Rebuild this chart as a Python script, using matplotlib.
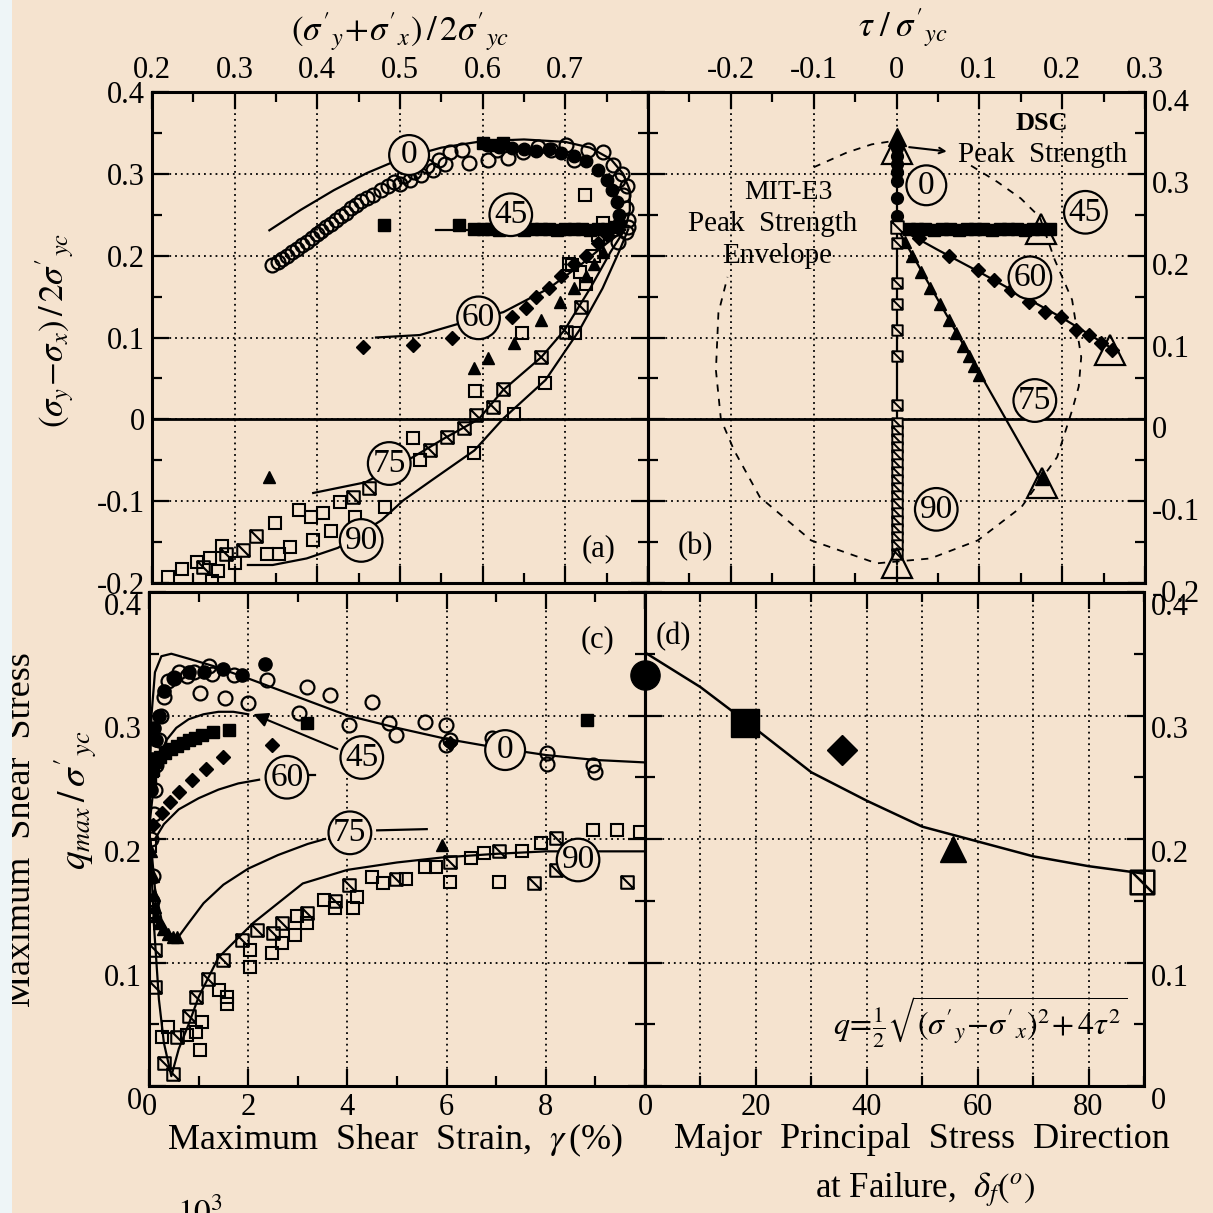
import matplotlib
matplotlib.use("Agg")
import matplotlib.pyplot as plt
from matplotlib.path import Path
from matplotlib.markers import MarkerStyle
from matplotlib.patches import Rectangle
from matplotlib.ticker import MultipleLocator, FuncFormatter
from matplotlib.transforms import ScaledTranslation

W, H = 1213, 1213
BG = "#f5e3cf"

# ---------------- panel (a): stress path, (s'y+s'x)/2 vs (sy-sx)/2 ----------------
a_circ_open_x = [0.345, 0.352, 0.357, 0.363, 0.369, 0.375, 0.381, 0.387, 0.393, 0.399, 0.405,
                 0.411, 0.417, 0.423, 0.429, 0.435, 0.441, 0.447, 0.453, 0.460, 0.467, 0.477,
                 0.485, 0.493, 0.500, 0.505, 0.512, 0.517, 0.525, 0.533, 0.540, 0.547, 0.555,
                 0.561, 0.575, 0.583, 0.607, 0.617, 0.631, 0.649, 0.667, 0.683, 0.701, 0.710,
                 0.728, 0.746, 0.758, 0.764, 0.770, 0.773, 0.776, 0.776, 0.773, 0.764, 0.768,
                 0.775]
a_circ_open_y = [0.189, 0.192, 0.196, 0.199, 0.204, 0.208, 0.213, 0.217, 0.222, 0.226, 0.230,
                 0.235, 0.239, 0.243, 0.248, 0.252, 0.258, 0.262, 0.267, 0.270, 0.274, 0.280,
                 0.285, 0.290, 0.287, 0.297, 0.293, 0.302, 0.298, 0.310, 0.305, 0.317, 0.312,
                 0.327, 0.329, 0.313, 0.317, 0.329, 0.319, 0.327, 0.333, 0.329, 0.335, 0.317,
                 0.329, 0.327, 0.311, 0.292, 0.274, 0.258, 0.243, 0.235, 0.229, 0.217, 0.300,
                 0.285]
a_circ_fill_x = [0.605, 0.620, 0.635, 0.650, 0.665, 0.680, 0.695, 0.710, 0.725, 0.740, 0.750,
                 0.757, 0.762, 0.765, 0.765]
a_circ_fill_y = [0.335, 0.333, 0.331, 0.330, 0.328, 0.330, 0.326, 0.322, 0.316, 0.305, 0.292,
                 0.280, 0.265, 0.250, 0.240]
a_sq_fill_x = [0.481, 0.571, 0.590, 0.600, 0.610, 0.620, 0.630, 0.640, 0.650, 0.660, 0.670,
               0.680, 0.690, 0.700, 0.710, 0.720, 0.730, 0.740, 0.750, 0.760, 0.600, 0.612,
               0.624]
a_sq_fill_y = [0.237, 0.237, 0.233, 0.232, 0.233, 0.231, 0.232, 0.233, 0.231, 0.232, 0.233,
               0.232, 0.231, 0.232, 0.233, 0.232, 0.231, 0.232, 0.233, 0.235, 0.338, 0.335,
               0.338]
a_sq_open_x = [0.219, 0.236, 0.255, 0.273, 0.270, 0.280, 0.300, 0.285, 0.339, 0.354, 0.349,
               0.367, 0.378, 0.392, 0.395, 0.407, 0.417, 0.427, 0.446, 0.482, 0.516, 0.524,
               0.590, 0.591, 0.638, 0.648, 0.676, 0.712, 0.708, 0.724, 0.705, 0.718, 0.735,
               0.725, 0.745, 0.740]
a_sq_open_y = [-0.193, -0.183, -0.174, -0.197, -0.170, -0.185, -0.175, -0.155, -0.164, -0.164,
               -0.127, -0.156, -0.111, -0.119, -0.148, -0.115, -0.136, -0.101, -0.119, -0.107,
               -0.023, -0.050, -0.041, 0.035, 0.006, 0.105, 0.045, 0.105, 0.189, 0.274, 0.190,
               0.180, 0.200, 0.165, 0.240, 0.225]
a_sq_diag_x = [0.262, 0.290, 0.310, 0.326, 0.443, 0.463, 0.536, 0.557, 0.577, 0.592, 0.613,
               0.625, 0.671, 0.701, 0.719]
a_sq_diag_y = [-0.180, -0.165, -0.160, -0.142, -0.095, -0.084, -0.038, -0.022, -0.010, 0.005,
               0.015, 0.037, 0.076, 0.107, 0.137]
a_dia_x = [0.455, 0.516, 0.563, 0.635, 0.653, 0.665, 0.680, 0.695, 0.710, 0.725, 0.740, 0.750]
a_dia_y = [0.088, 0.091, 0.099, 0.125, 0.136, 0.150, 0.160, 0.175, 0.190, 0.200, 0.215, 0.225]
a_tri_x = [0.341, 0.589, 0.607, 0.638, 0.671, 0.694, 0.710, 0.725, 0.735, 0.745]
a_tri_y = [-0.071, 0.063, 0.075, 0.093, 0.121, 0.143, 0.160, 0.175, 0.190, 0.205]

a_fit0_x = [0.342, 0.38, 0.42, 0.46, 0.50, 0.55, 0.60, 0.65, 0.70, 0.73, 0.755, 0.77, 0.778, 0.778, 0.773]
a_fit0_y = [0.231, 0.256, 0.280, 0.301, 0.318, 0.332, 0.340, 0.342, 0.339, 0.332, 0.318, 0.300, 0.280, 0.255, 0.235]
a_fit45_x = [0.544, 0.772]
a_fit45_y = [0.231, 0.231]
a_fit60_x = [0.471, 0.524, 0.575, 0.625, 0.68, 0.72, 0.75, 0.772]
a_fit60_y = [0.100, 0.103, 0.118, 0.131, 0.160, 0.190, 0.215, 0.232]
a_fit75_x = [0.395, 0.458, 0.516, 0.554, 0.595, 0.625, 0.671, 0.699, 0.73, 0.755, 0.772]
a_fit75_y = [-0.090, -0.077, -0.046, -0.023, 0.0, 0.036, 0.076, 0.109, 0.16, 0.205, 0.232]
a_fit90_x = [0.316, 0.346, 0.387, 0.425, 0.478, 0.504, 0.539, 0.59, 0.625, 0.676, 0.717, 0.745, 0.765, 0.776]
a_fit90_y = [-0.178, -0.178, -0.170, -0.157, -0.123, -0.099, -0.074, -0.038, 0.001, 0.048, 0.109, 0.160, 0.205, 0.232]
a_tags = [("0", 0.511, 0.323), ("45", 0.634, 0.250), ("60", 0.595, 0.124),
          ("75", 0.487, -0.054), ("90", 0.453, -0.148)]

# ---------------- panel (b): tau vs (sy-sx)/2 ----------------
b_circ_y = [0.249, 0.271, 0.291, 0.302, 0.312, 0.322, 0.331, 0.338]
b_sq45_x = [0.015, 0.025, 0.035, 0.045, 0.055, 0.065, 0.075, 0.085, 0.095, 0.105, 0.115,
            0.125, 0.135, 0.145, 0.155, 0.165, 0.175, 0.185]
b_sq45_y = [0.233, 0.232, 0.233, 0.231, 0.232, 0.233, 0.231, 0.232, 0.233, 0.232, 0.231,
            0.232, 0.233, 0.232, 0.231, 0.232, 0.233, 0.232]
b_dia_x = [0.027, 0.063, 0.098, 0.118, 0.138, 0.160, 0.179, 0.199, 0.217, 0.232, 0.247, 0.260]
b_dia_y = [0.222, 0.199, 0.182, 0.170, 0.158, 0.143, 0.131, 0.125, 0.109, 0.103, 0.093, 0.085]
b_fit60_x = [0.0, 0.05, 0.10, 0.15, 0.20, 0.258]
b_fit60_y = [0.235, 0.207, 0.180, 0.152, 0.124, 0.088]
b_tri75_x = [0.010, 0.019, 0.030, 0.041, 0.052, 0.063, 0.072, 0.080, 0.087, 0.094, 0.100]
b_tri75_y = [0.217, 0.200, 0.180, 0.161, 0.141, 0.121, 0.105, 0.090, 0.078, 0.065, 0.054]
b_fit75_x = [0.0, 0.176]
b_fit75_y = [0.235, -0.078]
b_sq90_y = [0.215, 0.167, 0.141, 0.109, 0.077, 0.017, -0.004, -0.014, -0.024, -0.034, -0.044,
            -0.054, -0.064, -0.074, -0.084, -0.094, -0.104, -0.114, -0.124, -0.134, -0.144,
            -0.154, -0.164]
b_peak_x = [0.0, 0.175, 0.258, 0.176, 0.0]
b_peak_y = [0.330, 0.232, 0.085, -0.078, -0.176]
b_env_x = [0.09, 0.122, 0.150, 0.173, 0.191, 0.212, 0.223, 0.220, 0.212, 0.194, 0.151, 0.098,
           0.041, -0.024, -0.103, -0.165, -0.196, -0.212, -0.218, -0.215, -0.204]
b_env_y = [0.310, 0.290, 0.270, 0.247, 0.195, 0.146, 0.076, 0.040, 0.011, -0.046, -0.107,
           -0.148, -0.170, -0.176, -0.148, -0.095, -0.038, 0.0, 0.060, 0.130, 0.174]
b_env_top_x = [-0.10, -0.06, -0.03, -0.005]
b_env_top_y = [0.308, 0.326, 0.336, 0.340]
b_tags = [("0", 0.036, 0.286), ("45", 0.228, 0.253), ("60", 0.161, 0.173),
          ("75", 0.167, 0.023), ("90", 0.048, -0.110)]

# ---------------- panel (c): q_max vs shear strain ----------------
c_circ_open_x = [0.39, 0.77, 1.03, 1.28, 1.53, 1.71, 2.00, 2.38, 3.19, 3.65, 4.50, 3.02, 4.03,
                 4.84, 4.97, 5.56, 5.99, 5.99, 6.92, 8.02, 8.02, 8.96, 9.00, 0.10, 0.12, 0.15,
                 0.20, 0.25, 0.30, 0.50, 0.60, 0.90, 1.20, 0.05, 0.08, 0.06, 6.07]
c_circ_open_y = [0.328, 0.332, 0.318, 0.334, 0.314, 0.333, 0.310, 0.329, 0.323, 0.317, 0.311,
                 0.302, 0.292, 0.294, 0.284, 0.295, 0.292, 0.276, 0.282, 0.270, 0.261, 0.260,
                 0.254, 0.220, 0.240, 0.260, 0.280, 0.300, 0.315, 0.330, 0.335, 0.335, 0.340,
                 0.200, 0.170, 0.150, 0.280]
c_circ_fill_x = [0.05, 0.07, 0.10, 0.15, 0.20, 0.30, 0.50, 0.80, 1.10, 1.50, 1.87, 2.34]
c_circ_fill_y = [0.240, 0.265, 0.290, 0.280, 0.300, 0.320, 0.330, 0.335, 0.335, 0.338, 0.333, 0.342]
c_sq_fill_x = [0.03, 0.08, 0.14, 0.22, 0.32, 0.44, 0.56, 0.68, 0.80, 0.93, 1.07, 1.30, 1.61, 3.19, 8.83]
c_sq_fill_y = [0.248, 0.256, 0.262, 0.266, 0.270, 0.273, 0.275, 0.278, 0.280, 0.282, 0.284,
               0.287, 0.288, 0.294, 0.296]
c_dia_x = [0.09, 0.26, 0.43, 0.60, 0.86, 1.15, 1.49, 2.47, 6.07]
c_dia_y = [0.211, 0.221, 0.230, 0.238, 0.248, 0.257, 0.266, 0.276, 0.278]
c_tri_x = [0.05, 0.08, 0.10, 0.12, 0.15, 0.20, 0.28, 0.38, 0.48, 0.56, 5.90]
c_tri_y = [0.190, 0.170, 0.155, 0.145, 0.138, 0.132, 0.127, 0.123, 0.121, 0.121, 0.195]
c_sq_open_x = [0.39, 0.26, 0.77, 1.07, 1.03, 0.95, 1.41, 1.57, 1.57, 2.04, 2.04, 2.47, 2.68,
               2.94, 2.98, 3.19, 3.53, 3.74, 4.12, 4.20, 4.50, 4.72, 5.18, 5.56, 5.78, 6.07,
               6.49, 6.75, 7.05, 7.52, 7.90, 8.96, 9.43, 9.90, 0.03, 0.05]
c_sq_open_y = [0.048, 0.040, 0.041, 0.052, 0.029, 0.044, 0.078, 0.072, 0.066, 0.110, 0.096,
               0.108, 0.116, 0.122, 0.138, 0.132, 0.151, 0.144, 0.144, 0.153, 0.169, 0.164,
               0.168, 0.177, 0.177, 0.165, 0.185, 0.189, 0.165, 0.190, 0.197, 0.207, 0.207,
               0.206, 0.194, 0.141]
c_sq_diag_x = [0.13, 0.13, 0.30, 0.48, 0.56, 0.81, 0.95, 1.19, 1.49, 1.87, 2.17, 2.51, 2.68,
               3.19, 3.74, 4.03, 4.97, 6.07, 7.05, 7.77, 8.20, 8.20, 9.64]
c_sq_diag_y = [0.110, 0.080, 0.019, 0.010, 0.040, 0.057, 0.072, 0.087, 0.102, 0.118, 0.126,
               0.124, 0.132, 0.140, 0.150, 0.163, 0.168, 0.181, 0.190, 0.164, 0.201, 0.175,
               0.165]
c_fit0_x = [0.0, 0.05, 0.12, 0.25, 0.45, 0.8, 1.3, 2.0, 3.0, 4.0, 5.0, 6.0, 7.0, 8.0, 9.0, 10.0]
c_fit0_y = [0.22, 0.30, 0.335, 0.348, 0.350, 0.346, 0.340, 0.330, 0.315, 0.300, 0.290, 0.281,
            0.274, 0.268, 0.264, 0.262]
c_fit45_x = [0.02, 0.1, 0.2, 0.35, 0.55, 0.8, 1.1, 1.4, 1.7, 2.0]
c_fit45_y = [0.215, 0.245, 0.265, 0.280, 0.290, 0.297, 0.301, 0.303, 0.303, 0.301]
c_fit60_x = [0.12, 0.3, 0.6, 1.0, 1.4, 1.8, 2.22]
c_fit60_y = [0.200, 0.212, 0.224, 0.233, 0.240, 0.245, 0.248]
c_fit75_x = [0.03, 0.12, 0.25, 0.4, 0.58, 0.8, 1.1, 1.5, 2.0, 2.6, 3.2, 3.55]
c_fit75_y = [0.20, 0.16, 0.135, 0.124, 0.120, 0.132, 0.148, 0.163, 0.176, 0.187, 0.196, 0.200]
c_fit75_tail_x = [4.6, 5.6]
c_fit75_tail_y = [0.207, 0.208]
c_fit60_tail_x = [3.2, 3.35]
c_fit60_tail_y = [0.252, 0.252]
c_fit90_x = [0.02, 0.1, 0.2, 0.3, 0.45, 0.6, 0.8, 1.0, 1.4, 2.1, 3.1, 4.0, 5.0, 5.9, 7.0, 8.0, 9.0, 10.0]
c_fit90_y = [0.20, 0.13, 0.07, 0.035, 0.008, 0.030, 0.050, 0.072, 0.104, 0.132, 0.164, 0.175,
             0.181, 0.185, 0.188, 0.190, 0.190, 0.190]
c_tags = [("0", 7.18, 0.272), ("45", 4.29, 0.266), ("60", 2.78, 0.250),
          ("75", 4.05, 0.205), ("90", 8.65, 0.183)]

# ---------------- panel (d): q at failure vs principal direction ----------------
d_fit_x = [0, 10, 20, 30, 40, 50, 60, 70, 80, 90]
d_fit_y = [0.351, 0.323, 0.289, 0.254, 0.231, 0.210, 0.198, 0.186, 0.178, 0.172]
d_delta = [0.0, 18.0, 35.6, 55.6, 89.6]
d_q = [0.333, 0.294, 0.272, 0.192, 0.165]


def px_rect(l, t, r, b):
    return [l / W, 1 - b / H, (r - l) / W, (b - t) / H]


def fig_xy(x, y):
    return x / W, 1 - y / H


def fmt(hide=()):
    def f(v, pos):
        if any(abs(v - h) < 1e-9 for h in hide):
            return ""
        if abs(v) < 1e-9:
            return "0"
        return f"{v:g}"
    return FuncFormatter(f)


def diag_square():
    verts = [(-1, -1), (1, -1), (1, 1), (-1, 1), (-1, -1), (-1, 1), (1, -1)]
    codes = [Path.MOVETO, Path.LINETO, Path.LINETO, Path.LINETO, Path.CLOSEPOLY,
             Path.MOVETO, Path.LINETO]
    return MarkerStyle(Path(verts, codes))


def style(ax, xlim, ylim, xmaj, xmin, ymaj, ymin, xhide=(), yhide=()):
    ax.set_facecolor("none")
    ax.set_xlim(*xlim)
    ax.set_ylim(*ylim)
    ax.xaxis.set_major_locator(MultipleLocator(xmaj))
    ax.xaxis.set_minor_locator(MultipleLocator(xmin))
    ax.yaxis.set_major_locator(MultipleLocator(ymaj))
    ax.yaxis.set_minor_locator(MultipleLocator(ymin))
    ax.xaxis.set_major_formatter(fmt(xhide))
    ax.yaxis.set_major_formatter(fmt(yhide))
    ax.tick_params(which="both", direction="in", top=True, bottom=True, left=True,
                   right=True, width=1.6, colors="k", labelsize=22, pad=5)
    ax.tick_params(which="major", length=12)
    ax.tick_params(which="minor", length=7)
    for s in ax.spines.values():
        s.set_linewidth(2.2)
    ax.grid(True, which="major", color="k", lw=1.3, ls=(0, (1, 2.2)))


def shift_ylabels(ax, dy_px):
    fig = ax.figure
    off = ScaledTranslation(0, -dy_px / fig.dpi, fig.dpi_scale_trans)
    for lab in ax.get_yticklabels():
        lab.set_transform(lab.get_transform() + off)


def tag(ax, s, x, y, fs=24):
    ax.text(x, y, s, ha="center", va="center", fontsize=fs, zorder=6,
            bbox=dict(boxstyle="circle,pad=0.14", fc=BG, ec="k", lw=1.6))


def main():
    plt.rcParams.update({"font.family": "serif",
                         "font.serif": ["Liberation Serif", "DejaVu Serif"],
                         "mathtext.fontset": "stix",
                         "axes.unicode_minus": False})
    fig = plt.figure(figsize=(W / 100, H / 100), dpi=100, facecolor=BG)
    dsq = diag_square()
    k = "k"

    # (a)
    ax = fig.add_axes(px_rect(152, 92, 648, 583))
    style(ax, (0.2, 0.8), (-0.2, 0.4), 0.1, 0.05, 0.1, 0.05, xhide=(0.8,))
    ax.tick_params(labeltop=True, labelbottom=False, labelleft=True, labelright=False)
    ax.axhline(0, color=k, lw=2.0, zorder=2)
    for fx, fy in [(a_fit0_x, a_fit0_y), (a_fit45_x, a_fit45_y), (a_fit60_x, a_fit60_y),
                   (a_fit75_x, a_fit75_y), (a_fit90_x, a_fit90_y)]:
        ax.plot(fx, fy, color=k, lw=1.6, zorder=3)
    ax.plot(a_circ_open_x, a_circ_open_y, "o", ms=10, mfc="none", mec=k, mew=1.6, zorder=4)
    ax.plot(a_circ_fill_x, a_circ_fill_y, "o", ms=9, color=k, zorder=4)
    ax.plot(a_sq_fill_x, a_sq_fill_y, "s", ms=9, color=k, zorder=4)
    ax.plot(a_sq_open_x, a_sq_open_y, "s", ms=9, mfc="none", mec=k, mew=1.5, zorder=4)
    ax.plot(a_sq_diag_x, a_sq_diag_y, ls="none", marker=dsq, ms=9, mfc="none", mec=k, mew=1.5, zorder=4)
    ax.plot(a_dia_x, a_dia_y, "D", ms=7.5, color=k, zorder=4)
    ax.plot(a_tri_x, a_tri_y, "^", ms=9, color=k, zorder=4)
    for s, x, y in a_tags:
        tag(ax, s, x, y)
    ax.text(0.74, -0.158, "(a)", fontsize=22, ha="center", va="center")

    # (b)
    ax = fig.add_axes(px_rect(648, 92, 1145, 583))
    style(ax, (-0.3, 0.3), (-0.2, 0.4), 0.1, 0.05, 0.1, 0.05, xhide=(-0.3,))
    ax.tick_params(labeltop=True, labelbottom=False, labelleft=False, labelright=True)
    ax.axhline(0, color=k, lw=2.0, zorder=2)
    ax.plot(b_env_x, b_env_y, color=k, lw=1.3, ls=(0, (4, 4)), zorder=2)
    ax.plot(b_env_top_x, b_env_top_y, color=k, lw=1.3, ls=(0, (4, 4)), zorder=2)
    ax.plot([0, 0], [0.235, 0.345], color=k, lw=1.6, zorder=3)
    ax.plot([0, 0.185], [0.232, 0.232], color=k, lw=1.6, zorder=3)
    ax.plot(b_fit60_x, b_fit60_y, color=k, lw=1.6, zorder=3)
    ax.plot(b_fit75_x, b_fit75_y, color=k, lw=1.6, zorder=3)
    ax.plot([0, 0], [0.235, -0.176], color=k, lw=1.6, zorder=3)
    ax.plot([0] * len(b_circ_y), b_circ_y, "o", ms=8.5, color=k, zorder=4)
    ax.plot([0], [0.345], "^", ms=13, color=k, zorder=4)
    ax.plot(b_sq45_x, b_sq45_y, "s", ms=9, color=k, zorder=4)
    ax.plot(b_dia_x, b_dia_y, "D", ms=7.5, color=k, zorder=4)
    ax.plot(b_tri75_x, b_tri75_y, "^", ms=8, color=k, zorder=4)
    ax.plot([0] * len(b_sq90_y), b_sq90_y, ls="none", marker=dsq, ms=7.5, mfc=BG, mec=k,
            mew=1.4, zorder=4)
    ax.plot([0], [0.235], ls="none", marker=dsq, ms=9, mfc=BG, mec=k, mew=1.4, zorder=5)
    ax.plot([0.176], [-0.072], "^", ms=10, color=k, zorder=4)
    ax.plot(b_peak_x, b_peak_y, "^", ms=21, mfc="none", mec=k, mew=1.6, zorder=5)
    ax.annotate("", xy=(0.064, 0.327), xytext=(0.012, 0.333),
                arrowprops=dict(arrowstyle="->", lw=1.5, color=k), zorder=5)
    ax.text(0.176, 0.362, "DSC", fontsize=19, ha="center", va="center", fontweight="bold")
    ax.text(0.176, 0.323, "Peak  Strength", fontsize=21, ha="center", va="center")
    ax.text(-0.13, 0.277, "MIT-E3", fontsize=20, ha="center", va="center")
    ax.text(-0.15, 0.239, "Peak  Strength", fontsize=21, ha="center", va="center")
    ax.text(-0.144, 0.200, "Envelope", fontsize=21, ha="center", va="center")
    for s, x, y in b_tags:
        tag(ax, s, x, y)
    ax.text(-0.243, -0.155, "(b)", fontsize=22, ha="center", va="center")
    shift_ylabels(ax, 8)

    # (c)
    ax = fig.add_axes(px_rect(149, 592, 645, 1086))
    style(ax, (0, 10), (0, 0.4), 2, 1, 0.1, 0.05, xhide=(10,))
    ax.tick_params(labeltop=False, labelbottom=True, labelleft=True, labelright=False)
    for fx, fy in [(c_fit0_x, c_fit0_y), (c_fit45_x, c_fit45_y), (c_fit60_x, c_fit60_y),
                   (c_fit75_x, c_fit75_y), (c_fit90_x, c_fit90_y),
                   (c_fit75_tail_x, c_fit75_tail_y), (c_fit60_tail_x, c_fit60_tail_y)]:
        ax.plot(fx, fy, color=k, lw=1.6, zorder=3)
    ax.annotate("", xy=(2.05, 0.302), xytext=(3.85, 0.272),
                arrowprops=dict(arrowstyle="-|>", lw=1.5, color=k, mutation_scale=22), zorder=4)
    ax.plot(c_circ_open_x, c_circ_open_y, "o", ms=10, mfc="none", mec=k, mew=1.6, zorder=4)
    ax.plot(c_circ_fill_x, c_circ_fill_y, "o", ms=9.5, color=k, zorder=4)
    ax.plot(c_sq_fill_x, c_sq_fill_y, "s", ms=9, color=k, zorder=4)
    ax.plot(c_dia_x, c_dia_y, "D", ms=7.5, color=k, zorder=4)
    ax.plot(c_tri_x, c_tri_y, "^", ms=9, color=k, zorder=4)
    ax.plot(c_sq_open_x, c_sq_open_y, "s", ms=9, mfc="none", mec=k, mew=1.5, zorder=4)
    ax.plot(c_sq_diag_x, c_sq_diag_y, ls="none", marker=dsq, ms=9, mfc="none", mec=k,
            mew=1.5, zorder=4)
    for s, x, y in c_tags:
        tag(ax, s, x, y)
    ax.text(9.05, 0.361, "(c)", fontsize=22, ha="center", va="center")
    shift_ylabels(ax, 12)

    # (d)
    ax = fig.add_axes(px_rect(645, 592, 1144, 1086))
    style(ax, (0, 90), (0, 0.4), 20, 10, 0.1, 0.05)
    ax.grid(True, which="minor", axis="x", color=k, lw=1.3, ls=(0, (1, 2.2)))
    ax.tick_params(labeltop=False, labelbottom=True, labelleft=False, labelright=True)
    ax.plot(d_fit_x, d_fit_y, color=k, lw=1.8, zorder=3)
    ax.plot(d_delta[0], d_q[0], "o", ms=21, color=k, zorder=4, clip_on=False)
    ax.plot(d_delta[1], d_q[1], "s", ms=20, color=k, zorder=4)
    ax.plot(d_delta[2], d_q[2], "D", ms=15, color=k, zorder=4)
    ax.plot(d_delta[3], d_q[3], "^", ms=19, color=k, zorder=4)
    ax.plot(d_delta[4], d_q[4], ls="none", marker=dsq, ms=17, mfc="none", mec=k, mew=1.8,
            zorder=4, clip_on=False)
    ax.text(5.2, 0.364, "(d)", fontsize=22, ha="center", va="center")
    ax.text(60.5, 0.052,
            r"$q\!=\!\frac{1}{2}\sqrt{(\sigma'_{y}\!-\!\sigma'_{x})^2\!+4\tau^2}$",
            fontsize=23, ha="center", va="center")
    shift_ylabels(ax, 12)

    # axis titles
    fig.text(*fig_xy(400, 32), r"$(\sigma'_{y}\!+\!\sigma'_{x})\,/\,2\sigma'_{yc}$",
             fontsize=25, ha="center", va="center")
    fig.text(*fig_xy(903, 28), r"$\tau\;/\;\sigma'_{yc}$", fontsize=25, ha="center", va="center")
    fig.text(*fig_xy(55, 330), r"$(\sigma_{y}\!-\!\sigma_{x})\,/\,2\sigma'_{yc}$",
             fontsize=25, ha="center", va="center", rotation=90)
    fig.text(*fig_xy(76, 800), r"$q_{max}\,/\,\sigma'_{yc}$", fontsize=27, ha="center",
             va="center", rotation=90)
    fig.text(*fig_xy(22, 830), "Maximum  Shear  Stress", fontsize=26, ha="center",
             va="center", rotation=90)
    fig.text(*fig_xy(395, 1140), r"Maximum  Shear  Strain,  $\gamma\,$(%)", fontsize=26,
             ha="center", va="center")
    fig.text(*fig_xy(922, 1140), "Major  Principal  Stress  Direction", fontsize=26,
             ha="center", va="center")
    fig.text(*fig_xy(925, 1190), r"at Failure,  $\delta_f(^{o})$", fontsize=25,
             ha="center", va="center")
    fig.text(*fig_xy(200, 1213), r"$10^3$", fontsize=24, ha="center", va="center")

    # page edge strip on the left
    fig.add_artist(Rectangle((0, 0), 12 / W, 1, transform=fig.transFigure,
                             facecolor="#eef5f7", edgecolor="none", zorder=20))

    fig.savefig("out.png", dpi=100, facecolor=BG)


if __name__ == "__main__":
    main()
